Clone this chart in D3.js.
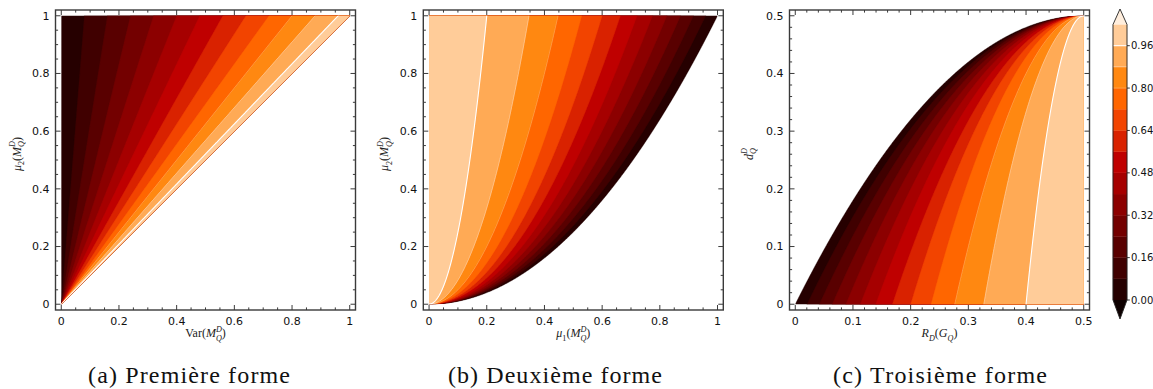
<!DOCTYPE html>
<html>
<head>
<meta charset="utf-8">
<script src="https://cdn.jsdelivr.net/npm/d3@7"></script>
<style>
  html, body { margin: 0; padding: 0; background: #fff; }
  svg { display: block; }
</style>
</head>
<body>
<script>
// Contour levels shared by the three panels and the colour bar
const levels = [0, 0.08, 0.16, 0.24, 0.32, 0.40, 0.48, 0.56, 0.64, 0.72, 0.80, 0.88, 0.96, 1.04];
// Levels that also get a thin white contour line, with their opacity
const lineLevels = [0.80, 0.88, 0.96];
const lineAlpha = [0.3, 0.5, 1.0];
// Colour bar ticks
const cbarTicks = [0, 0.16, 0.32, 0.48, 0.64, 0.80, 0.96];
// Axis ticks
const unitTicks = [0, 0.2, 0.4, 0.6, 0.8, 1];
const unitTickLabels = ["0", "0.2", "0.4", "0.6", "0.8", "1"];
const halfTicks = [0, 0.1, 0.2, 0.3, 0.4, 0.5];
const halfTickLabels = ["0", "0.1", "0.2", "0.3", "0.4", "0.5"];
// Sub-figure captions
const captions = ["(a) Première forme", "(b) Deuxième forme", "(c) Troisième forme"];

// gist_heat colour map
function gistHeat(t) {
  const c = v => Math.round(255 * Math.max(0, Math.min(1, v)));
  return d3.rgb(c(1.5 * t), c(2 * t - 1), c(4 * t - 3)).formatHex();
}
// colour normalisation spans the extended range of the levels
const normLo = -0.08, normHi = 1.12;
const colorOf = v => gistHeat((v - normLo) / (normHi - normLo));
const bandColors = d3.range(levels.length - 1).map(k => colorOf((levels[k] + levels[k + 1]) / 2));
const underColor = colorOf(levels[0] - 0.04);
const overColor = colorOf(levels[levels.length - 1] + 0.04);

const W = 1153, H = 389;
const svg = d3.select("body").append("svg").attr("width", W).attr("height", H);
const defs = svg.append("defs");

const frameTop = 10, frameSize = 300;
const serif = "'Liberation Serif', 'Times New Roman', serif";
const sans = "'DejaVu Sans', sans-serif";

// Small helper for math-like labels (italic letters, sub/superscripts)
function mathText(parent, parts, size) {
  const t = parent.append("text")
    .attr("font-family", serif)
    .attr("font-size", size)
    .attr("text-anchor", "middle")
    .attr("fill", "#222");
  let shift = 0, pendingDx = 0;
  const ss = size * 0.68;
  parts.forEach(p => {
    if (p.sub !== undefined || p.sup !== undefined) {
      let wSub = 0, wSup = 0;
      if (p.sub !== undefined) {
        const s = t.append("tspan").attr("font-size", ss)
          .attr("font-style", p.subIt === false ? "normal" : "italic")
          .attr("dx", pendingDx)
          .attr("dy", size * 0.3 - shift).text(p.sub);
        pendingDx = 0;
        shift = size * 0.3;
        wSub = s.node().getComputedTextLength();
      }
      if (p.sup !== undefined) {
        const s = t.append("tspan").attr("font-size", ss)
          .attr("font-style", "italic")
          .attr("dx", -wSub + pendingDx)
          .attr("dy", -size * 0.45 - shift).text(p.sup);
        pendingDx = 0;
        shift = -size * 0.45;
        wSup = s.node().getComputedTextLength();
        pendingDx = Math.max(0, wSub - wSup);
      }
    } else {
      t.append("tspan")
        .attr("font-style", p.it ? "italic" : "normal")
        .attr("font-size", size)
        .attr("dx", pendingDx)
        .attr("dy", -shift).text(p.t);
      pendingDx = 0;
      shift = 0;
    }
  });
  return t;
}

const labelMQ = [{ t: "M", it: true }, { sub: "Q", sup: "D" }];

const panels = [
  {
    left: 55.5, xDom: [0, 1], yDom: [0, 1],
    ticks: unitTicks, tickLabels: unitTickLabels, minor: 0.05,
    field: (x, y) => y > 0 ? x / y : (x > 0 ? 5 : -5),
    region: "upperTriangle",
    xLabel: [{ t: "Var(" }, ...labelMQ, { t: ")" }],
    yLabel: [{ t: "μ", it: true }, { sub: "2", subIt: false }, { t: "(" }, ...labelMQ, { t: ")" }],
    yLabelDx: -35, caption: captions[0], capX: 189, capW: 202
  },
  {
    left: 423.3, xDom: [0, 1], yDom: [0, 1],
    ticks: unitTicks, tickLabels: unitTickLabels, minor: 0.05,
    field: (x, y) => y > 0 ? 1 - x * x / y : -5,
    region: "rect",
    xLabel: [{ t: "μ", it: true }, { sub: "1", subIt: false }, { t: "(" }, ...labelMQ, { t: ")" }],
    yLabel: [{ t: "μ", it: true }, { sub: "2", subIt: false }, { t: "(" }, ...labelMQ, { t: ")" }],
    yLabelDx: -35, caption: captions[1], capX: 555, capW: 214
  },
  {
    left: 789.5, xDom: [0, 0.5], yDom: [0, 0.5],
    ticks: halfTicks, tickLabels: halfTickLabels, minor: 0.02,
    field: (r, d) => d < 0.5 ? 1 - (1 - 2 * r) * (1 - 2 * r) / (1 - 2 * d) : -5,
    region: "rect",
    xLabel: [{ t: "R", it: true }, { sub: "D" }, { t: "(" }, { t: "G", it: true }, { sub: "Q" }, { t: ")" }],
    yLabel: [{ t: "d", it: true }, { sub: "Q", sup: "D" }],
    yLabelDx: -37, caption: captions[2], capX: 940, capW: 214
  }
];

panels.forEach((p, pi) => {
  const pad = frameSize * 0.02 / 1.04;
  const x = d3.scaleLinear().domain(p.xDom).range([p.left + pad, p.left + frameSize - pad]);
  const y = d3.scaleLinear().domain(p.yDom).range([frameTop + frameSize - pad, frameTop + pad]);
  const g = svg.append("g");

  // clip region of the filled field
  const clipId = "clip" + pi;
  const cp = defs.append("clipPath").attr("id", clipId);
  if (p.region === "upperTriangle") {
    cp.append("path").attr("d",
      `M${x(0)},${y(0)}L${x(0)},${y(1)}L${x(1)},${y(1)}Z`);
  } else {
    cp.append("rect")
      .attr("x", x(p.xDom[0])).attr("y", y(p.yDom[1]))
      .attr("width", x(p.xDom[1]) - x(p.xDom[0]))
      .attr("height", y(p.yDom[0]) - y(p.yDom[1]));
  }

  // sample the field on a grid that extends a little past the domain
  const n = 520, m = 520;
  const ex = (p.xDom[1] - p.xDom[0]) * 0.03, ey = (p.yDom[1] - p.yDom[0]) * 0.03;
  const gx0 = p.xDom[0] - ex, gx1 = p.xDom[1] + ex;
  const gy0 = p.yDom[0] - ey, gy1 = p.yDom[1] + ey;
  const sx = (gx1 - gx0) / (n - 1), sy = (gy1 - gy0) / (m - 1);
  const values = new Float64Array(n * m);
  for (let j = 0; j < m; j++) {
    const yy = gy0 + j * sy;
    for (let i = 0; i < n; i++) {
      const xx = gx0 + i * sx;
      let v = p.field(xx, yy);
      if (!isFinite(v)) v = -5;
      values[j * n + i] = Math.max(-5, Math.min(5, v));
    }
  }
  const proj = d3.geoTransform({
    point(gx, gy) {
      this.stream.point(x(gx0 + (gx - 0.5) * sx), y(gy0 + (gy - 0.5) * sy));
    }
  });
  const path = d3.geoPath(proj);
  const fillThresholds = levels.slice(0, -1);
  const contourGen = d3.contours().size([n, m]).smooth(true);

  const fillG = g.append("g").attr("clip-path", `url(#${clipId})`);
  fillThresholds.forEach((t, k) => {
    const c = contourGen.contour(values, t);
    fillG.append("path").attr("d", path(c))
      .attr("fill", bandColors[k])
      .attr("stroke", bandColors[k]).attr("stroke-width", 0.35);
  });
  lineLevels.forEach((t, k) => {
    const c = contourGen.contour(values, t);
    fillG.append("path").attr("d", path(c))
      .attr("fill", "none")
      .attr("stroke", "#fff")
      .attr("stroke-opacity", lineAlpha[k])
      .attr("stroke-width", t === 0.96 ? 1.1 : 0.8);
  });

  // frame
  const fx0 = p.left, fx1 = p.left + frameSize, fy0 = frameTop, fy1 = frameTop + frameSize;
  const axisColor = "#3a3a3a";
  // ticks on all four sides, pointing inwards
  const majLen = 5, minLen = 2.6;
  const tickG = g.append("g").attr("stroke", axisColor).attr("stroke-width", 1);
  const isMajor = v => p.ticks.some(t => Math.abs(t - v) < 1e-9);
  const minors = d3.range(p.xDom[0], p.xDom[1] + 1e-9, p.minor)
    .map(v => Math.round(v * 1000) / 1000).filter(v => !isMajor(v));
  const allTicks = p.ticks.map(v => [v, majLen]).concat(minors.map(v => [v, minLen]));
  allTicks.forEach(([v, len]) => {
    tickG.append("line").attr("x1", x(v)).attr("x2", x(v)).attr("y1", fy1).attr("y2", fy1 - len);
    tickG.append("line").attr("x1", x(v)).attr("x2", x(v)).attr("y1", fy0).attr("y2", fy0 + len);
    tickG.append("line").attr("y1", y(v)).attr("y2", y(v)).attr("x1", fx0).attr("x2", fx0 + len);
    tickG.append("line").attr("y1", y(v)).attr("y2", y(v)).attr("x1", fx1).attr("x2", fx1 - len);
  });
  g.append("rect").attr("x", fx0).attr("y", fy0).attr("width", frameSize).attr("height", frameSize)
    .attr("fill", "none").attr("stroke", axisColor).attr("stroke-width", 1.4);

  // tick labels
  p.ticks.forEach((v, i) => {
    g.append("text").attr("x", x(v)).attr("y", fy1 + 15)
      .attr("text-anchor", "middle").attr("font-family", sans).attr("font-size", 11)
      .attr("fill", "#111").text(p.tickLabels[i]);
    g.append("text").attr("x", fx0 - 6).attr("y", y(v)).attr("dy", "0.36em")
      .attr("text-anchor", "end").attr("font-family", sans).attr("font-size", 11)
      .attr("fill", "#111").text(p.tickLabels[i]);
  });

  // axis titles
  const xl = g.append("g").attr("transform", `translate(${(fx0 + fx1) / 2},${fy1 + 27})`);
  mathText(xl, p.xLabel, 12);
  const yl = g.append("g").attr("transform", `translate(${fx0 + p.yLabelDx},${(fy0 + fy1) / 2 - 6}) rotate(-90)`);
  mathText(yl, p.yLabel, 12);

  // caption
  svg.append("text").attr("x", p.capX).attr("y", 383)
    .attr("text-anchor", "middle").attr("font-family", serif).attr("font-size", 24)
    .attr("textLength", p.capW).attr("lengthAdjust", "spacing")
    .attr("fill", "#111").text(p.caption);
});

// colour bar with triangular extensions
const cbX = 1113, cbW = 14;
const cy = d3.scaleLinear().domain([levels[0], levels[levels.length - 1]]).range([300, 24.5]);
const cbG = svg.append("g");
bandColors.forEach((c, k) => {
  cbG.append("rect").attr("x", cbX).attr("width", cbW)
    .attr("y", cy(levels[k + 1])).attr("height", cy(levels[k]) - cy(levels[k + 1]))
    .attr("fill", c).attr("stroke", c).attr("stroke-width", 0.3);
});
const tipLo = 319, tipHi = 9;
const cbTop = cy(levels[levels.length - 1]), cbBot = cy(levels[0]);
cbG.append("path").attr("d", `M${cbX},${cbBot}L${cbX + cbW / 2},${tipLo}L${cbX + cbW},${cbBot}Z`)
  .attr("fill", underColor);
cbG.append("path").attr("d", `M${cbX},${cbTop}L${cbX + cbW / 2},${tipHi}L${cbX + cbW},${cbTop}Z`)
  .attr("fill", overColor);
lineLevels.forEach((t, k) => {
  cbG.append("line").attr("x1", cbX).attr("x2", cbX + cbW).attr("y1", cy(t)).attr("y2", cy(t))
    .attr("stroke", "#fff").attr("stroke-opacity", lineAlpha[k]).attr("stroke-width", t === 0.96 ? 1.1 : 0.8);
});
cbG.append("path")
  .attr("d", `M${cbX},${cbTop}L${cbX + cbW / 2},${tipHi}L${cbX + cbW},${cbTop}L${cbX + cbW},${cbBot}L${cbX + cbW / 2},${tipLo}L${cbX},${cbBot}Z`)
  .attr("fill", "none").attr("stroke", "#222").attr("stroke-width", 0.9);
const fmt = d3.format(".2f");
cbarTicks.forEach(t => {
  cbG.append("line").attr("x1", cbX + cbW).attr("x2", cbX + cbW + 2.8).attr("y1", cy(t)).attr("y2", cy(t))
    .attr("stroke", "#222").attr("stroke-width", 0.9);
  cbG.append("text").attr("x", cbX + cbW + 4).attr("y", cy(t)).attr("dy", "0.36em")
    .attr("font-family", sans).attr("font-size", 10).attr("fill", "#111").text(fmt(t));
});
</script>
</body>
</html>
